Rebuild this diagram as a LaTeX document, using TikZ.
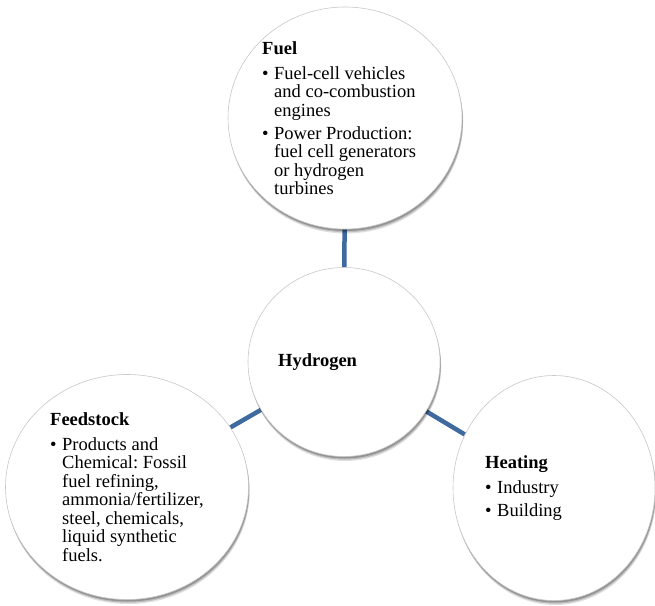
\documentclass[tikz,border=0pt]{standalone}
\usepackage{fontspec}
\setmainfont{Liberation Serif}
\usetikzlibrary{shapes.geometric,shadows,backgrounds}
\definecolor{ink}{HTML}{000000}
\definecolor{rim}{HTML}{C8C8C8}
\definecolor{linkblue}{HTML}{3E6A9F}
\newcommand{\bodyfont}{\fontsize{18.5}{18.5}\selectfont\frenchspacing}
\newcommand{\bul}{\makebox[12pt][l]{\textbullet}}
\newcommand{\ind}{\hspace*{12pt}}
\tikzset{
 every node/.append style={font=\bodyfont,text=ink},
 bubble/.style={ellipse,draw=rim,fill=white,line width=.6pt,inner sep=0pt,
   drop shadow={shadow xshift=1.2pt,shadow yshift=-4.5pt,opacity=.12,fill=black},
   drop shadow={shadow xshift=1pt,shadow yshift=-3.2pt,opacity=.16,fill=black},
   drop shadow={shadow xshift=.6pt,shadow yshift=-2pt,opacity=.22,fill=black}},
 word/.style={align=left,inner sep=0pt,anchor=west},
 link/.style={draw=linkblue,line width=4.5pt},
}

\begin{document}
\begin{tikzpicture}[x=1pt,y=-1pt]
\useasboundingbox (0,0) rectangle (655,605);

\node[bubble,minimum width=234pt,minimum height=222pt] (fuel) at (345,118) {};
\node[bubble,minimum width=192pt,minimum height=189pt] (hyd) at (344,362) {};
\node[bubble,minimum width=243pt,minimum height=225pt] (feed) at (127,487) {};
\node[bubble,minimum width=202pt,minimum height=225pt] (heat) at (554,488) {};

\node[word] (fueltxt) at ([xshift=-83pt]fuel.center) {\textbf{Fuel}\\[6.5pt]
  \bul Fuel-cell vehicles\\ \ind and co-combustion\\ \ind engines\\[4.5pt]
  \bul Power Production:\\ \ind fuel cell generators\\ \ind or hydrogen\\ \ind turbines};
\node[word] (hydtxt) at ([xshift=-66pt]hyd.center) {\textbf{Hydrogen}};
\node[word] (feedtxt) at ([xshift=-77pt]feed.center) {\textbf{Feedstock}\\[6.5pt]
  \bul Products and\\ \ind Chemical: Fossil\\ \ind fuel refining,\\ \ind ammonia/fertilizer,\\
  \ind steel, chemicals,\\ \ind liquid synthetic\\ \ind fuels.};
\node[word] (heattxt) at ([xshift=-69pt]heat.center) {\textbf{Heating}\\[6.5pt]
  \bul Industry\\[4pt]
  \bul Building};

\begin{scope}[on background layer]
\draw[link] (fuel) -- (hyd);
\draw[link] (feed) -- (hyd);
\draw[link] (heat) -- (hyd);
\end{scope}

\end{tikzpicture}
\end{document}
